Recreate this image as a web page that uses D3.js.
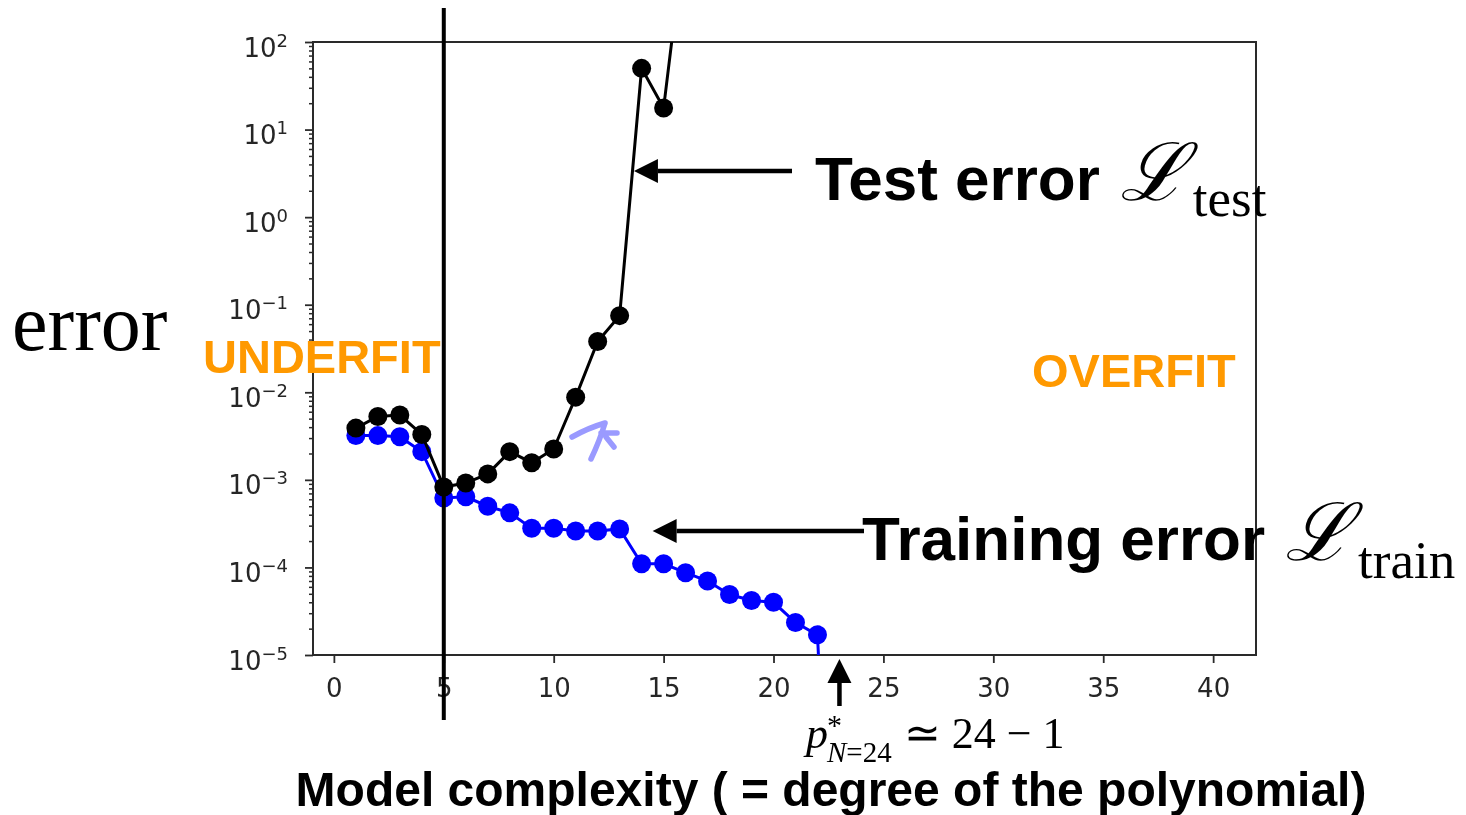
<!DOCTYPE html>
<html>
<head>
<meta charset="utf-8">
<script src="https://cdn.jsdelivr.net/npm/d3@7"></script>
<style>
  html, body { margin: 0; padding: 0; background: #fff; }
  svg { display: block; }
</style>
</head>
<body>
<svg id="chart" width="1466" height="815"></svg>
<script>
// Polynomial degree (model complexity) and the errors measured for each fit
const testDegree  = [1, 2, 3, 4, 5, 6, 7, 8, 9, 10, 11, 12, 13, 14, 15, 16];
const testError   = [3.9e-3, 5.3e-3, 5.5e-3, 3.3e-3, 8.3e-4, 9.2e-4, 1.17e-3, 2.1e-3,
                     1.57e-3, 2.25e-3, 8.8e-3, 3.8e-2, 7.5e-2, 50, 17.6, 2000];
const trainDegree = [1, 2, 3, 4, 5, 6, 7, 8, 9, 10, 11, 12, 13, 14, 15, 16, 17, 18, 19, 20, 21, 22, 23];
const trainError  = [3.2e-3, 3.2e-3, 3.1e-3, 2.1e-3, 6.2e-4, 6.4e-4, 5.0e-4, 4.2e-4,
                     2.8e-4, 2.8e-4, 2.6e-4, 2.6e-4, 2.75e-4, 1.1e-4, 1.1e-4, 8.7e-5,
                     7.0e-5, 4.9e-5, 4.2e-5, 4.0e-5, 2.35e-5, 1.7e-5, 1e-10];

const xTicks = [0, 5, 10, 15, 20, 25, 30, 35, 40];
const yTickExponents = [-5, -4, -3, -2, -1, 0, 1, 2];
const bestDegree = 5;        // vertical separator between the two regimes
const criticalDegree = 23;   // p* for N = 24 samples

const svg = d3.select("#chart");
const M = { left: 313, right: 1256, top: 42, bottom: 655 };

const x = d3.scaleLinear().domain([-0.95, 41.95]).range([M.left, M.right]);
const y = d3.scaleLog().domain([1e-5, 1e2]).range([M.bottom, M.top]);

// soft rendering for the plotted figure
const defs = svg.append("defs");
defs.append("filter").attr("id", "soft")
  .append("feGaussianBlur").attr("stdDeviation", 0.7);
defs.append("clipPath").attr("id", "plotClip")
  .append("rect")
  .attr("x", M.left).attr("y", M.top)
  .attr("width", M.right - M.left).attr("height", M.bottom - M.top);

const fig = svg.append("g").attr("filter", "url(#soft)");
const axisColor = "#2b2b2b";
const tickFont = "'DejaVu Sans', sans-serif";

// x axis
const xAxis = fig.append("g").attr("transform", `translate(0,${M.bottom})`)
  .call(d3.axisBottom(x).tickValues(xTicks).tickSize(8).tickFormat(d3.format("d")));
xAxis.select(".domain").remove();
xAxis.selectAll(".tick line").attr("stroke", axisColor).attr("stroke-width", 1.8);
xAxis.selectAll(".tick text")
  .attr("y", 42).attr("dy", null)
  .attr("fill", "#262626")
  .style("font-family", tickFont).style("font-size", "26px");

// y axis: minor ticks
const minorVals = [];
yTickExponents.slice(0, -1).forEach(e => {
  for (let k = 2; k <= 9; k++) minorVals.push(k * Math.pow(10, e));
});
const yMinor = fig.append("g").attr("transform", `translate(${M.left},0)`)
  .call(d3.axisLeft(y).tickValues(minorVals).tickSize(4).tickFormat(""));
yMinor.select(".domain").remove();
yMinor.selectAll(".tick line").attr("stroke", axisColor).attr("stroke-width", 1.5);

// y axis: major ticks with power-of-ten labels
const yMajor = fig.append("g").attr("transform", `translate(${M.left},0)`)
  .call(d3.axisLeft(y).tickValues(yTickExponents.map(e => Math.pow(10, e))).tickSize(8));
yMajor.select(".domain").remove();
yMajor.selectAll(".tick line").attr("stroke", axisColor).attr("stroke-width", 1.8);
yMajor.selectAll(".tick text").remove();
yMajor.selectAll(".tick").each(function(d) {
  const e = Math.round(Math.log10(d));
  const t = d3.select(this).append("text")
    .attr("x", -25).attr("y", 14)
    .attr("text-anchor", "end")
    .attr("fill", "#262626")
    .style("font-family", tickFont).style("font-size", "26px");
  t.append("tspan").text("10");
  t.append("tspan").attr("dy", -10).style("font-size", "18px")
    .text(e < 0 ? "\u2212" + Math.abs(e) : String(e));
});

// frame
fig.append("rect")
  .attr("x", M.left).attr("y", M.top)
  .attr("width", M.right - M.left).attr("height", M.bottom - M.top)
  .attr("fill", "none").attr("stroke", axisColor).attr("stroke-width", 2);

// series
const plot = fig.append("g").attr("clip-path", "url(#plotClip)");
function drawSeries(xs, ys, color) {
  const pts = xs.map((d, i) => [d, ys[i]]);
  plot.append("path")
    .datum(pts)
    .attr("fill", "none").attr("stroke", color).attr("stroke-width", 3)
    .attr("d", d3.line().x(d => x(d[0])).y(d => y(d[1])));
  plot.append("g").selectAll("circle")
    .data(pts.filter(d => d[1] >= 1e-5 && d[1] <= 1e2))
    .join("circle")
    .attr("cx", d => x(d[0])).attr("cy", d => y(d[1]))
    .attr("r", 9.5).attr("fill", color);
}
drawSeries(trainDegree, trainError, "#0000ff");
drawSeries(testDegree, testError, "#000000");

// overlay annotations
const ann = svg.append("g");
const sansBold = "'Liberation Sans', Arial, Helvetica, sans-serif";
const serif = "'Liberation Serif', 'Times New Roman', serif";

// separator at the best degree
ann.append("line")
  .attr("x1", x(bestDegree)).attr("x2", x(bestDegree))
  .attr("y1", 8).attr("y2", 720)
  .attr("stroke", "#000").attr("stroke-width", 4);

// arrows
function arrow(x1, y1, x2, y2) {
  const ang = Math.atan2(y2 - y1, x2 - x1);
  const headLen = 24, headHalf = 12;
  const bx = x2 - headLen * Math.cos(ang), by = y2 - headLen * Math.sin(ang);
  ann.append("line")
    .attr("x1", x1).attr("y1", y1).attr("x2", bx).attr("y2", by)
    .attr("stroke", "#000").attr("stroke-width", 4.5);
  const px = -Math.sin(ang) * headHalf, py = Math.cos(ang) * headHalf;
  ann.append("path")
    .attr("d", `M${x2},${y2}L${bx + px},${by + py}L${bx - px},${by - py}Z`)
    .attr("fill", "#000");
}
arrow(792, 171, x(13.65), 171);
arrow(864, 531, x(14.5), 531);
arrow(x(criticalDegree), 706, x(criticalDegree), 659);

// hand-drawn mark next to the test curve
ann.append("path")
  .attr("d", "M572,437 Q588,428 605,423 M605,423 Q600,440 591,459 M601,433 L617,433 M606,437 L614,447")
  .attr("fill", "none").attr("stroke", "#9a9aff").attr("stroke-width", 5.5)
  .attr("stroke-linecap", "round").attr("stroke-linejoin", "round");

// curve labels
function curveLabel(xPos, yBase, words, sub, subDy) {
  const t = ann.append("text").attr("x", xPos).attr("y", yBase);
  t.append("tspan").text(words)
    .style("font-family", sansBold).style("font-weight", "bold").style("font-size", "62px");
  t.append("tspan").text("\u2112").attr("dx", 20)
    .style("font-family", "'DejaVu Serif', serif").style("font-style", "italic").style("font-size", "80px");
  t.append("tspan").text(sub).attr("dx", 6).attr("dy", subDy)
    .style("font-family", serif).style("font-size", "53px");
}
curveLabel(815, 200, "Test error", "test", 16);
curveLabel(862, 560, "Training error", "train", 18);

// regime labels
ann.append("text").attr("x", 203).attr("y", 373).text("UNDERFIT")
  .attr("fill", "#ff9900")
  .style("font-family", sansBold).style("font-weight", "bold").style("font-size", "47px");
ann.append("text").attr("x", 1032).attr("y", 387).text("OVERFIT")
  .attr("fill", "#ff9900")
  .style("font-family", sansBold).style("font-weight", "bold").style("font-size", "47px");

// y label
ann.append("text").attr("x", 12).attr("y", 350).text("error")
  .style("font-family", serif).style("font-size", "80px");

// critical degree formula
const pf = ann.append("text").attr("x", 806).attr("y", 748)
  .style("font-family", serif).style("font-size", "44px");
pf.append("tspan").text("p").style("font-style", "italic");
pf.append("tspan").text("*").attr("dx", -1).attr("dy", -13).style("font-size", "30px");
pf.append("tspan").text("N").attr("dx", -15).attr("dy", 27).style("font-style", "italic").style("font-size", "29px");
pf.append("tspan").text("=24").style("font-size", "29px");
pf.append("tspan").text("\u2243 24 \u2212 1").attr("dx", 12).attr("dy", -14);

// x label
ann.append("text").attr("x", 831).attr("y", 806).attr("text-anchor", "middle")
  .text("Model complexity ( = degree of the polynomial)")
  .style("font-family", sansBold).style("font-weight", "bold").style("font-size", "48px");
</script>
</body>
</html>
